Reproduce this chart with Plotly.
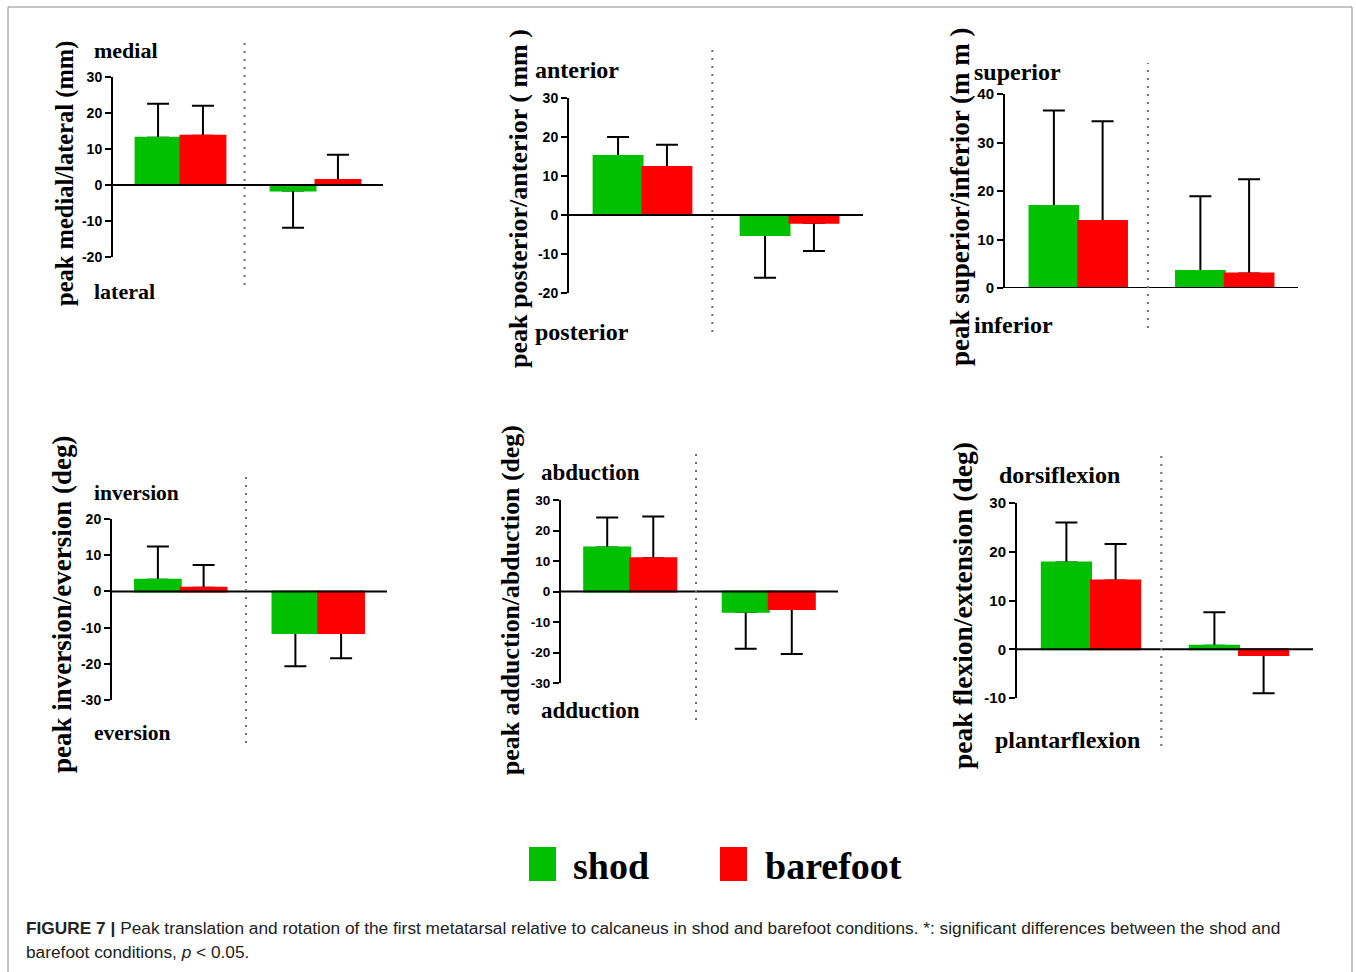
import plotly.graph_objects as go

W, H = 1356, 972

# ---------------- data ----------------
groups = [0, 1]  # two conditions per panel (no category labels shown)
series_names = ["shod", "barefoot"]

# Panel 1: medial / lateral (mm)
ml_shod = [13.1, -1.5]
ml_shod_sd = [9.5, 10.4]
ml_bare = [13.7, 1.4]
ml_bare_sd = [8.3, 7.0]

# Panel 2: posterior / anterior (mm)
pa_shod = [15.1, -5.1]
pa_shod_sd = [4.9, 11.0]
pa_bare = [12.3, -2.0]
pa_bare_sd = [5.7, 7.2]

# Panel 3: superior / inferior (mm)
si_shod = [16.9, 3.5]
si_shod_sd = [19.7, 15.4]
si_bare = [13.8, 3.0]
si_bare_sd = [20.6, 19.4]

# Panel 4: inversion / eversion (deg)
ie_shod = [3.2, -11.5]
ie_shod_sd = [9.2, 9.2]
ie_bare = [1.0, -11.5]
ie_bare_sd = [6.3, 7.0]

# Panel 5: adduction / abduction (deg)
aa_shod = [14.4, -6.6]
aa_shod_sd = [9.9, 12.2]
aa_bare = [10.9, -5.7]
aa_bare_sd = [13.7, 14.8]

# Panel 6: flexion / extension (deg)
fe_shod = [17.8, 0.7]
fe_shod_sd = [8.2, 6.9]
fe_bare = [14.1, -1.2]
fe_bare_sd = [7.5, 7.8]

# y tick values / labels per panel
ml_ticks = [-20, -10, 0, 10, 20, 30]
pa_ticks = [-20, -10, 0, 10, 20, 30]
si_ticks = [0, 10, 20, 30, 40]
ie_ticks = [-30, -20, -10, 0, 10, 20]
aa_ticks = [-30, -20, -10, 0, 10, 20, 30]
fe_ticks = [-10, 0, 10, 20, 30]

y_titles = [
    "peak medial/lateral (mm)",
    "peak posterior/anterior ( mm )",
    "peak superior/inferior (m m )",
    "peak inversion/eversion (deg)",
    "peak adduction/abduction (deg)",
    "peak flexion/extension (deg)",
]
top_labels = ["medial", "anterior", "superior", "inversion", "abduction", "dorsiflexion"]
bottom_labels = ["lateral", "posterior", "inferior", "eversion", "adduction", "plantarflexion"]

caption_line1 = ("<b>FIGURE 7 |</b> Peak translation and rotation of the first metatarsal relative to "
                 "calcaneus in shod and barefoot conditions. *: significant differences between the shod and")
caption_line2 = "barefoot conditions, <i>p</i> &lt; 0.05."

panel_data = [
    (ml_shod, ml_shod_sd, ml_bare, ml_bare_sd, ml_ticks),
    (pa_shod, pa_shod_sd, pa_bare, pa_bare_sd, pa_ticks),
    (si_shod, si_shod_sd, si_bare, si_bare_sd, si_ticks),
    (ie_shod, ie_shod_sd, ie_bare, ie_bare_sd, ie_ticks),
    (aa_shod, aa_shod_sd, aa_bare, aa_bare_sd, aa_ticks),
    (fe_shod, fe_shod_sd, fe_bare, fe_bare_sd, fe_ticks),
]

# ---------------- layout geometry (pixels) ----------------
geo = [
    dict(x0=113, x1=383, yt=77, yb=257, sep=(40, 285), ttl=(65, 174, 24.5), tick=14,
         lab=22, top=(92, 50), bot=(92, 291)),
    dict(x0=569, x1=863, yt=98, yb=293, sep=(48, 332), ttl=(519, 199, 26), tick=14,
         lab=24, top=(533, 70), bot=(533, 332)),
    dict(x0=1005, x1=1298, yt=94, yb=288, sep=(63, 328), ttl=(960, 197, 27), tick=15,
         lab=24, top=(972, 72), bot=(972, 325)),
    dict(x0=112, x1=387, yt=519, yb=700, sep=(473, 743), ttl=(62, 604, 27), tick=14,
         lab=21.5, top=(92, 493), bot=(92, 733)),
    dict(x0=561, x1=838, yt=500, yb=683, sep=(453, 720), ttl=(510, 600, 25.8), tick=13.5,
         lab=23, top=(539, 472), bot=(539, 710)),
    dict(x0=1017, x1=1313, yt=503, yb=698, sep=(452, 746), ttl=(962, 605, 27.5), tick=15,
         lab=24, top=(997, 475), bot=(993, 740)),
]

GREEN = "#00C000"
RED = "#FF0000"
SERIF = "Liberation Serif, Times New Roman, serif"
SANS = "Liberation Sans, Arial, sans-serif"


def px_x(p):
    return p / W


def px_y(p):
    return 1 - p / H


fig = go.Figure()
shapes = []
annotations = []

for i, (g, (s_m, s_sd, b_m, b_sd, ticks)) in enumerate(zip(geo, panel_data), start=1):
    xa = "x" if i == 1 else f"x{i}"
    ya = "y" if i == 1 else f"y{i}"
    # transparent bars carrying the one-sided error bars
    for name, m, sd in ((series_names[0], s_m, s_sd), (series_names[1], b_m, b_sd)):
        plus = [e if v >= 0 else 0 for v, e in zip(m, sd)]
        minus = [e if v < 0 else 0 for v, e in zip(m, sd)]
        fig.add_trace(go.Bar(
            x=groups, y=m, name=name, offsetgroup=name, xaxis=xa, yaxis=ya,
            marker=dict(color="rgba(0,0,0,0)", line=dict(width=0)),
            error_y=dict(type="data", symmetric=False, array=plus, arrayminus=minus,
                         color="black", thickness=2, width=11),
            showlegend=False, hoverinfo="skip"))
    # visible bars drawn on top
    for name, m, col in ((series_names[0], s_m, GREEN), (series_names[1], b_m, RED)):
        fig.add_trace(go.Bar(
            x=groups, y=m, name=name, offsetgroup=name, xaxis=xa, yaxis=ya,
            marker=dict(color=col, line=dict(color=col, width=2)),
            showlegend=False))

    fig.layout[f"xaxis{'' if i == 1 else i}"] = dict(
        domain=[px_x(g["x0"]), px_x(g["x1"])], range=[-0.5, 1.5], visible=False,
        anchor=ya, fixedrange=True, automargin=False)
    fig.layout[f"yaxis{'' if i == 1 else i}"] = dict(
        domain=[px_y(g["yb"]), px_y(g["yt"])], range=[min(ticks), max(ticks)],
        tickmode="array", tickvals=ticks, ticktext=[str(t) for t in ticks],
        showline=True, linewidth=2, linecolor="black", ticks="outside", ticklen=6,
        tickwidth=2, tickcolor="black", showgrid=False, zeroline=False,
        tickfont=dict(family=SANS, size=g["tick"], color="black", weight="bold"),
        anchor=xa, fixedrange=True, automargin=False)

    # baseline at zero
    shapes.append(dict(type="line", xref=f"{xa} domain", yref=ya, x0=0, x1=1, y0=0, y1=0,
                       line=dict(color="black", width=2)))
    # dotted separator
    shapes.append(dict(type="line", xref=xa, yref="paper", x0=0.475, x1=0.475,
                       y0=px_y(g["sep"][1]), y1=px_y(g["sep"][0]),
                       line=dict(color="#707070", width=2, dash="2px,6px")))
    # y title
    tx, ty, ts = g["ttl"]
    annotations.append(dict(text=y_titles[i - 1], x=px_x(tx), y=px_y(ty), xref="paper",
                            yref="paper", textangle=-90, showarrow=False,
                            xanchor="center", yanchor="middle",
                            font=dict(family=SERIF, size=ts, color="black", weight="bold")))
    # direction labels
    for txt, (lx, ly) in ((top_labels[i - 1], g["top"]), (bottom_labels[i - 1], g["bot"])):
        annotations.append(dict(text=txt, x=px_x(lx), y=px_y(ly), xref="paper", yref="paper",
                                showarrow=False, xanchor="left", yanchor="middle",
                                font=dict(family=SERIF, size=g["lab"], color="black",
                                          weight="bold")))

# legend (manual, large swatches)
for col, name, sx, tx in ((GREEN, series_names[0], 529, 571), (RED, series_names[1], 720, 763)):
    shapes.append(dict(type="rect", xref="paper", yref="paper",
                       x0=px_x(sx), x1=px_x(sx + 27), y0=px_y(881), y1=px_y(847),
                       fillcolor=col, line=dict(width=0)))
    annotations.append(dict(text=name, x=px_x(tx), y=px_y(866), xref="paper", yref="paper",
                            showarrow=False, xanchor="left", yanchor="middle",
                            font=dict(family=SERIF, size=38, color="black", weight="bold")))

# caption
annotations.append(dict(text=caption_line1, x=px_x(24), y=px_y(928), xref="paper", yref="paper",
                        showarrow=False, xanchor="left", yanchor="middle",
                        font=dict(family=SANS, size=17.3, color="#222222")))
annotations.append(dict(text=caption_line2, x=px_x(24), y=px_y(952), xref="paper", yref="paper",
                        showarrow=False, xanchor="left", yanchor="middle",
                        font=dict(family=SANS, size=17.3, color="#222222")))

# outer frame
shapes.append(dict(type="rect", xref="paper", yref="paper", x0=px_x(8), x1=px_x(1352),
                   y0=-0.02, y1=px_y(7), line=dict(color="#8a8a8a", width=1)))

fig.update_layout(
    width=W, height=H, autosize=False,
    margin=dict(l=0, r=0, t=0, b=0, pad=0, autoexpand=False),
    paper_bgcolor="white", plot_bgcolor="rgba(0,0,0,0)",
    barmode="group", bargap=0.335, bargroupgap=0,
    showlegend=False, shapes=shapes, annotations=annotations,
)

fig.write_html("out.html", config={"displayModeBar": False, "responsive": False})
